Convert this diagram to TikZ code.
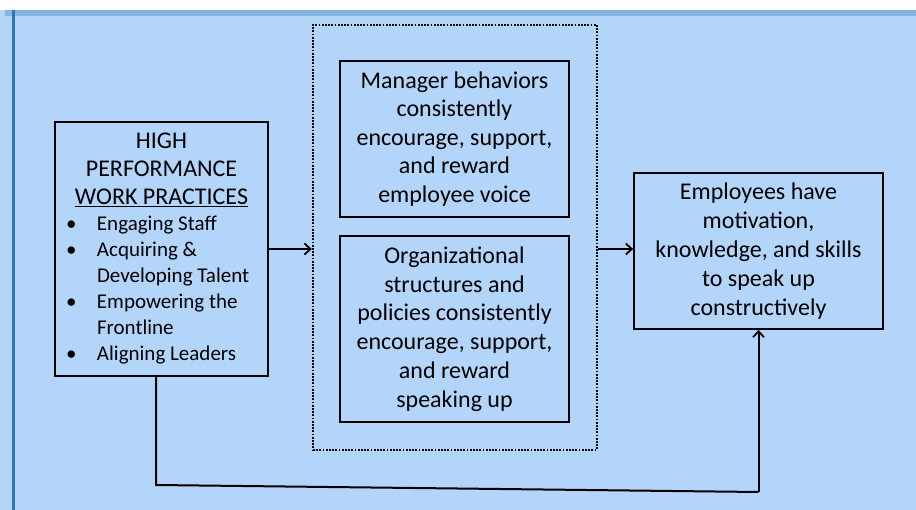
\documentclass[tikz,border=0pt]{standalone}
\usepackage{fontspec}
\setmainfont{Carlito}
\usetikzlibrary{arrows.meta}
\definecolor{slidebg}{RGB}{180,213,250}
\definecolor{bandblue}{RGB}{132,180,226}
\definecolor{ruleblue}{RGB}{46,117,182}
\tikzset{
  box/.style={draw=black, line width=1.8pt, fill=slidebg, inner sep=0pt, align=center},
  dotbox/.style={draw=black, line width=2.4pt, dash pattern=on 1.8pt off 1.4pt},
  link/.style={line width=2pt, -{Straight Barb[length=6pt,width=11pt,line width=1.8pt]}},
  plain/.style={line width=2pt}
}
\newcommand{\bul}{\makebox[35pt][l]{\hspace{4pt}\textbullet}}
\newcommand{\nobul}{\makebox[35pt][l]{}}
\begin{document}
\begin{tikzpicture}[x=1pt, y=-1pt]
  % slide background with header band and left rule
  \fill[white] (0,0) rectangle (916,510);
  \fill[slidebg] (0,10) rectangle (916,510);
  \fill[bandblue] (5,10) rectangle (916,16);
  \fill[ruleblue] (12,10) rectangle (14.5,510);
  \useasboundingbox (0,0) rectangle (916,510);

  % left box: work practices
  \node[box, minimum width=213pt, minimum height=254pt] (hpwp) at (161.5,249)
    {\begin{minipage}{199pt}\centering
      \fontsize{24}{28}\selectfont
      HIGH\\PERFORMANCE\\\underline{WORK PRACTICES}\par
      \raggedright\fontsize{21}{26}\selectfont
      \bul Engaging Staff\\
      \bul Acquiring \&\\
      \nobul Developing Talent\\
      \bul Empowering the\\
      \nobul Frontline\\
      \bul Aligning Leaders
    \end{minipage}};

  % dotted grouping frame
  \node[dotbox, minimum width=284pt, minimum height=425pt, inner sep=0pt] (grp) at (455,237.5) {};

  % inner boxes
  \node[box, minimum width=229pt, minimum height=156pt, font=\fontsize{24}{28.5}\selectfont] (mgr) at (454.5,139)
    {Manager behaviors\\consistently\\encourage, support,\\and reward\\employee voice};
  \node[box, minimum width=229pt, minimum height=186pt, font=\fontsize{24}{28.7}\selectfont] (org) at (454.5,329)
    {Organizational\\structures and\\policies consistently\\encourage, support,\\and reward\\speaking up};

  % right box: outcome
  \node[box, minimum width=249pt, minimum height=156pt, font=\fontsize{24}{29}\selectfont] (emp) at (758.5,251)
    {Employees have\\motivation,\\knowledge, and skills\\to speak up\\constructively};

  % connectors
  \draw[link] (hpwp.east) -- (hpwp.east -| grp.west);
  \draw[link] (grp.east |- 0,249) -- (emp.west |- 0,249);
  \coordinate (bl) at (156,485);
  \coordinate (br) at (758.5,492);
  \draw[plain] (hpwp.south -| bl) -- (bl) -- (br);
  \draw[link] (br) -- (emp.south);
\end{tikzpicture}
\end{document}
